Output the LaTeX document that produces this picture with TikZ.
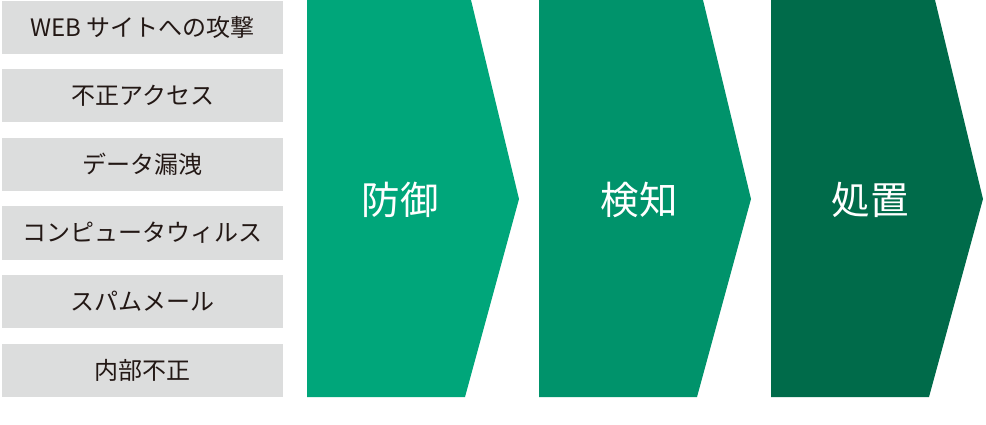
\documentclass[tikz,border=0pt]{standalone}
\usepackage{fontspec}
\newfontfamily\jp{Noto Sans CJK JP}
\definecolor{boxgray}{HTML}{DCDDDD}
\definecolor{textdark}{HTML}{231815}
\definecolor{stageA}{RGB}{0,166,122}
\definecolor{stageB}{RGB}{0,147,107}
\definecolor{stageC}{RGB}{0,107,74}
\begin{document}
\begin{tikzpicture}[x=1pt,y=-1pt,
  itembox/.style={fill=boxgray, minimum width=281pt, minimum height=53pt, inner sep=0pt, anchor=north west, text=textdark, font=\jp\fontsize{24}{26}\selectfont},
  stagelabel/.style={text=white, inner sep=0pt, font=\jp\fontsize{38.5}{42}\selectfont}]
\useasboundingbox (0,0) rectangle (986,425);
% left list
\node[itembox] (i1) at (2,0.5) {WEB サイトへの攻撃};
\node[itembox] (i2) at (2,69.1) {不正アクセス};
\node[itembox] (i3) at (2,137.7) {データ漏洩};
\node[itembox] (i4) at (2,206.3) {コンピュータウィルス};
\node[itembox] (i5) at (2,274.9) {スパムメール};
\node[itembox] (i6) at (2,343.5) {内部不正};
% chevrons
\fill[stageA] (307,0) -- (471,0) -- (519,199) -- (465,397) -- (307,397) -- cycle;
\fill[stageB] (539,0) -- (703,0) -- (751,199) -- (697,397) -- (539,397) -- cycle;
\fill[stageC] (771,0) -- (935,0) -- (983,199) -- (929,397) -- (771,397) -- cycle;
\node[stagelabel] (s1) at (400,200) {防御};
\node[stagelabel] (s2) at (639,200) {検知};
\node[stagelabel] (s3) at (870,200) {処置};
\end{tikzpicture}
\end{document}
